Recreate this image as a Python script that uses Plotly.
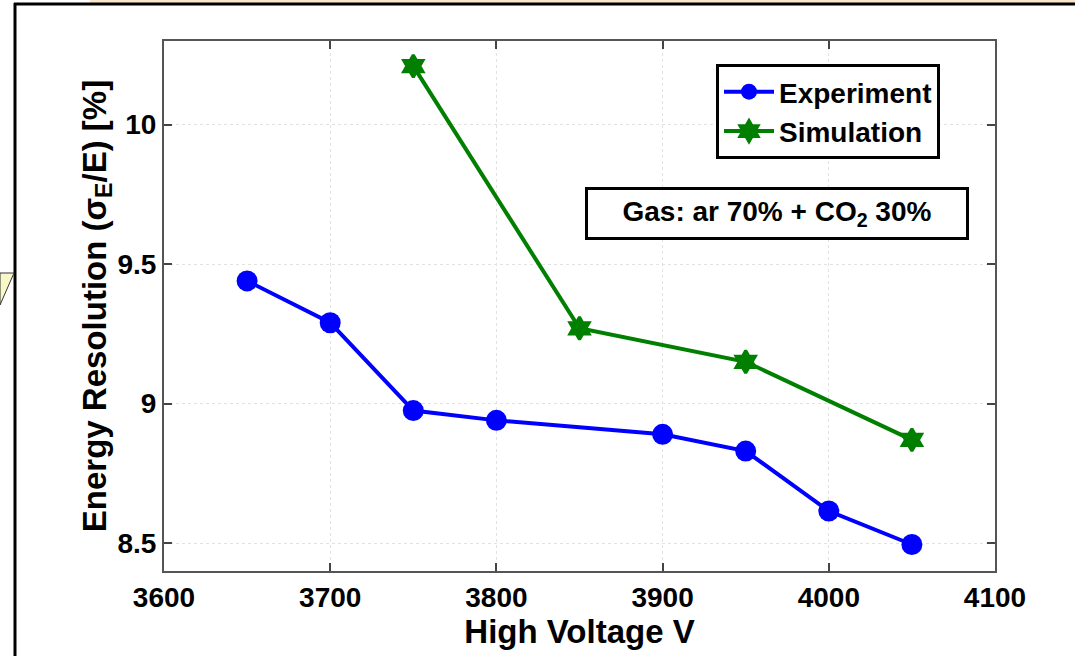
import plotly.graph_objects as go

# Measured and simulated energy resolution vs. applied high voltage
exp_voltage = [3650, 3700, 3750, 3800, 3900, 3950, 4000, 4050]
exp_resolution = [9.44, 9.29, 8.975, 8.94, 8.89, 8.83, 8.615, 8.495]

sim_voltage = [3750, 3850, 3950, 4050]
sim_resolution = [10.21, 9.27, 9.15, 8.87]

x_ticks = [3600, 3700, 3800, 3900, 4000, 4100]
y_ticks = [8.5, 9, 9.5, 10]
y_tick_text = ["8.5", "9", "9.5", "10"]

W, H = 1075, 656
ML, MR, MT, MB = 164, 80, 41, 85
PW, PH = W - ML - MR, H - MT - MB


def px(x):
    return (x - ML) / PW


def py(y):
    return (H - MB - y) / PH


FONT = "Liberation Sans, Arial, sans-serif"

fig = go.Figure()
fig.add_trace(go.Scatter(
    x=exp_voltage, y=exp_resolution, mode="lines+markers", name="<b>Experiment</b>",
    line=dict(color="#0000ff", width=4),
    marker=dict(symbol="circle", size=21, color="#0000ff"),
))
fig.add_trace(go.Scatter(
    x=sim_voltage, y=sim_resolution, mode="lines+markers", name="<b>Simulation</b>",
    line=dict(color="#007f00", width=4),
    marker=dict(symbol="hexagram", size=17, color="#007f00",
                line=dict(color="#007f00", width=3)),
))

axis_common = dict(
    showline=True, linecolor="#555555", linewidth=2, mirror="ticks",
    ticks="inside", ticklen=8, tickwidth=1.5, tickcolor="#444444",
    showgrid=True, gridcolor="#e2e2e2", griddash="dot", gridwidth=1,
    zeroline=False,
    tickfont=dict(family=FONT, size=28, color="black"),
)

fig.update_xaxes(
    range=[3600, 4100], tickvals=x_ticks, ticktext=[f"<b>{t}</b>" for t in x_ticks],
    title=dict(text="<b>High Voltage V</b>", font=dict(family=FONT, size=33, color="black"), standoff=2),
    **axis_common,
)
fig.update_yaxes(
    range=[8.4, 10.3], tickvals=y_ticks, ticktext=[f"<b>{t}</b>" for t in y_tick_text],
    title=dict(text="<b>Energy Resolution (σ<sub>E</sub>/E) [%]</b>",
               font=dict(family=FONT, size=33, color="black"), standoff=0),
    **axis_common,
)

# Gas-mixture note in a framed box
fig.add_annotation(
    x=px(777), y=py(213), xref="paper", yref="paper",
    text="<b>Gas: ar 70% + CO<sub>2</sub> 30%</b>", showarrow=False,
    font=dict(family=FONT, size=28, color="black"),
    bordercolor="black", borderwidth=3, borderpad=6, bgcolor="white",
    xanchor="center", yanchor="middle", width=366,
)

# Page frame around the figure
fig.add_shape(type="rect", xref="paper", yref="paper",
              x0=px(90), x1=px(1075), y0=py(4), y1=py(0),
              line=dict(width=0), fillcolor="#fbe6c9", layer="below")
fig.add_shape(type="line", xref="paper", yref="paper",
              x0=px(14), x1=px(1075), y0=py(4), y1=py(4),
              line=dict(color="black", width=3))
fig.add_shape(type="line", xref="paper", yref="paper",
              x0=px(15), x1=px(15), y0=py(3), y1=py(656),
              line=dict(color="black", width=3))
fig.add_shape(type="path", xref="paper", yref="paper",
              path=f"M {px(0)},{py(273)} L {px(14)},{py(273)} L {px(0)},{py(305)} Z",
              line=dict(color="#333333", width=1), fillcolor="#f8f8c8")

fig.update_layout(
    width=W, height=H,
    margin=dict(l=ML, r=MR, t=MT, b=MB),
    paper_bgcolor="white", plot_bgcolor="white",
    font=dict(family=FONT, color="black"),
    showlegend=True,
    legend=dict(
        x=px(716), y=py(64), xanchor="left", yanchor="top",
        bgcolor="white", bordercolor="black", borderwidth=3,
        font=dict(family=FONT, size=28, color="black"),
        itemwidth=50, tracegroupgap=0,
    ),
)

fig.write_html("out.html")
